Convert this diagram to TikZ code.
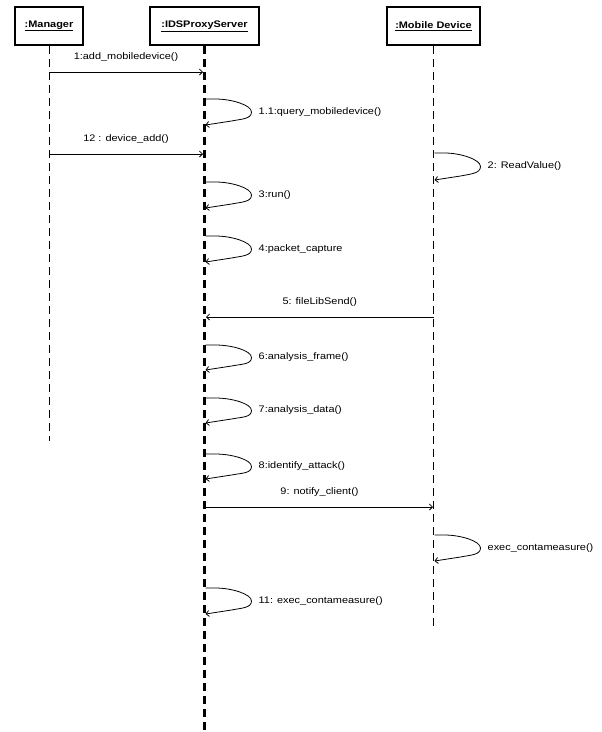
\documentclass[tikz,border=0pt]{standalone}
\usepackage{fontspec}
\setmainfont{Liberation Sans}[FakeStretch=1.15]
\usetikzlibrary{arrows.meta,calc}

\tikzset{
  objbox/.style={draw, line width=1.6pt, minimum height=38pt, inner sep=0pt,
                 font=\fontsize{9.5}{11}\selectfont\bfseries},
  lifeline/.style={line width=0.8pt, dash pattern=on 8pt off 5pt},
  mainlife/.style={line width=2.4pt, dash pattern=on 8pt off 5pt},
  msg/.style={line width=0.8pt, -{Straight Barb[length=3pt,width=6pt]}},
  selfmsg/.style={line width=0.8pt, -{Straight Barb[length=3pt,width=6pt]}},
  lbl/.style={font=\fontsize{9.5}{11}\selectfont, inner sep=0pt},
}

% self call drawn on a lifeline: #1 lifeline x, #2 top y, #3 bottom y, #4 name prefix, #5 text
\newcommand{\selfcall}[5]{%
  \coordinate (#4a) at (#1+1,#2);
  \coordinate (#4b) at (#1+1,#3);
  \coordinate (#4t) at ($(#4a)!0.5!(#4b)+(46,0)$);
  \draw[selfmsg] (#4a) -- ++(10,0)
     .. controls +(16,0) and +(0,-7) .. (#4t)
     .. controls +(0,7) and +(10,-2) .. ($(#4b)+(26,-4)$)
     -- (#4b);
  \node[lbl, anchor=west] (#4l) at ($(#4t)+(7,0)$) {#5};
}

\begin{document}
\begin{tikzpicture}[x=1pt, y=-1pt]
  \useasboundingbox (0,0) rectangle (602,732);

  % objects
  \node[objbox, minimum width=68pt] (mgr) at (49,26) {\underline{:Manager}};
  \node[objbox, minimum width=109pt] (ids) at (204.5,26) {\underline{:IDSProxyServer}};
  \node[objbox, minimum width=93pt] (mob) at (433.5,26) {\underline{:Mobile Device}};

  % lifelines
  \coordinate (mgrend) at (49,441);
  \coordinate (idsend) at (204.5,732);
  \coordinate (mobend) at (433.5,630);
  \draw[lifeline] (mgr.south) -- (mgrend);
  \draw[mainlife] (ids.south) -- (idsend);
  \draw[lifeline] (mob.south) -- (mobend);

  % messages between objects
  \coordinate (m1s) at (49,72);   \coordinate (m1e) at (203,72);
  \draw[msg] (m1s) -- node[lbl, above=10pt] {1:add\_mobiledevice()} (m1e);

  \coordinate (m12s) at (49,154); \coordinate (m12e) at (203,154);
  \draw[msg] (m12s) -- node[lbl, above=10pt] {12 : device\_add()} (m12e);

  \coordinate (m5s) at (433.5,317); \coordinate (m5e) at (206,317);
  \draw[msg] (m5s) -- node[lbl, above=10pt] {5: fileLibSend()} (m5e);

  \coordinate (m9s) at (206,507); \coordinate (m9e) at (433,507);
  \draw[msg] (m9s) -- node[lbl, above=10pt] {9: notify\_client()} (m9e);

  % self calls
  \selfcall{204.5}{99}{125}{q}{1.1:query\_mobiledevice()}
  \selfcall{433.5}{153}{180}{r}{2: ReadValue()}
  \selfcall{204.5}{182}{208}{u}{3:run()}
  \selfcall{204.5}{236}{262}{p}{4:packet\_capture}
  \selfcall{204.5}{345}{370}{f}{6:analysis\_frame()}
  \selfcall{204.5}{398}{423}{d}{7:analysis\_data()}
  \selfcall{204.5}{454}{479}{i}{8:identify\_attack()}
  \selfcall{433.5}{535}{561}{c}{exec\_contameasure()}
  \selfcall{204.5}{588}{614}{e}{11: exec\_contameasure()}
\end{tikzpicture}
\end{document}
